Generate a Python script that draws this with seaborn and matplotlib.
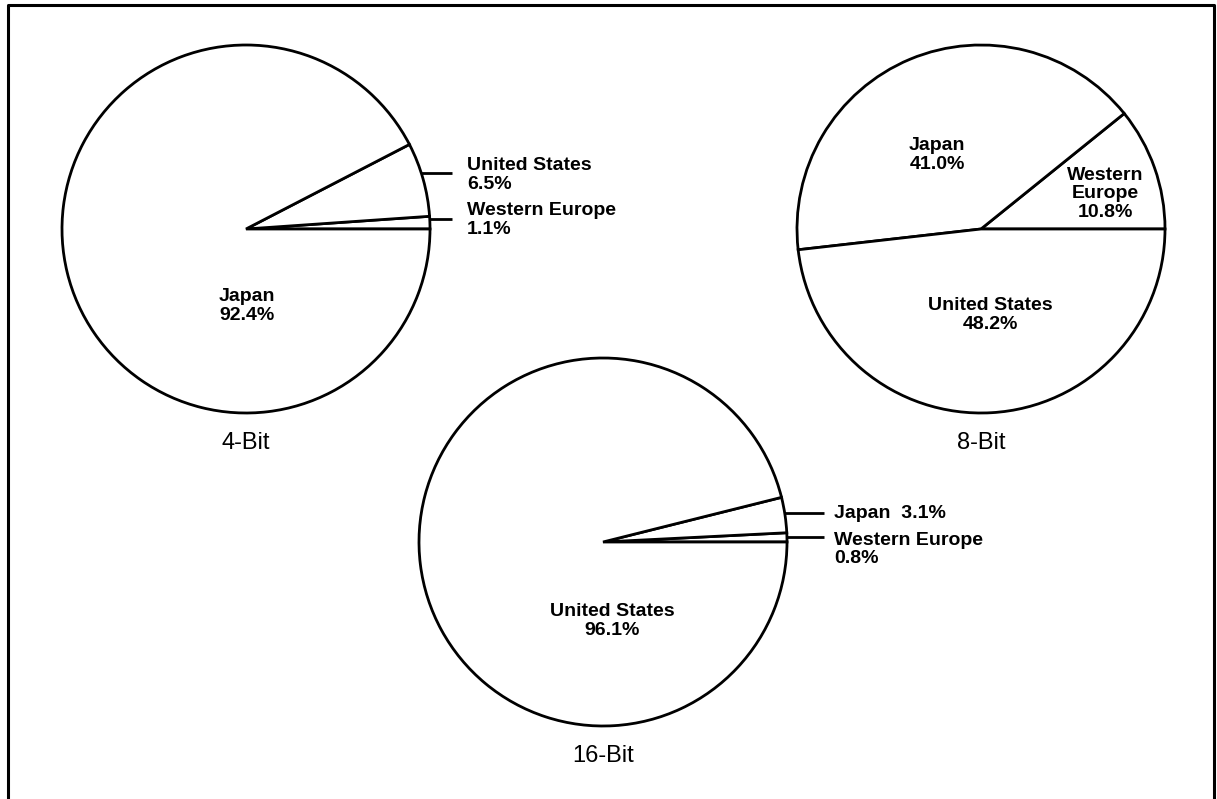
import numpy as np
import matplotlib
matplotlib.use("Agg")
import matplotlib.pyplot as plt
import seaborn as sns

# Shares by region, wedges listed counterclockwise from 3 o'clock
chips = ['4-Bit', '8-Bit', '16-Bit']
regions_4 = ['Western Europe', 'United States', 'Japan']
share_4 = [1.1, 6.5, 92.4]
regions_8 = ['Western Europe', 'Japan', 'United States']
share_8 = [10.8, 41.0, 48.2]
regions_16 = ['Western Europe', 'Japan', 'United States']
share_16 = [0.8, 3.1, 96.1]

sns.set_theme(style="white")
plt.rcParams['font.family'] = ['Liberation Sans', 'DejaVu Sans']

W, H = 1217, 799
fig = plt.figure(figsize=(W / 100, H / 100), dpi=100)
ax = fig.add_axes([0, 0, 1, 1])

R = 184
# pie centres in pixel coords (x from left, y from top)
centres = [(246, 229), (981, 229), (603, 542)]


def py(y):
    return H - y


def label(x, y, s, **kw):
    ax.text(x, py(y), s, fontsize=14, fontweight='bold', linespacing=1.08,
            color='black', **kw)


def leader(ci, y, x_end):
    cx, cy = centres[ci]
    dy = y - cy
    x0 = cx + np.sqrt(R ** 2 - dy ** 2)
    ax.plot([x0, x_end], [py(y), py(y)], color='black', lw=2.0,
            solid_capstyle='butt')


for (cx, cy), vals in zip(centres, [share_4, share_8, share_16]):
    ax.pie(vals, startangle=0, counterclock=True, colors=['white'] * len(vals),
           center=(cx, py(cy)), radius=R,
           wedgeprops=dict(edgecolor='black', linewidth=2.0))

# 4-Bit
label(247, 306, f"{regions_4[2]}\n{share_4[2]:.1f}%", ha='center', va='center')
leader(0, 173, 452)
label(467, 175, f"{regions_4[1]}\n{share_4[1]:.1f}%", ha='left', va='center')
leader(0, 219, 452)
label(467, 220, f"{regions_4[0]}\n{share_4[0]:.1f}%", ha='left', va='center')

# 8-Bit
label(937, 155, f"{regions_8[1]}\n{share_8[1]:.1f}%", ha='center', va='center')
label(1105, 194, "Western\nEurope\n" + f"{share_8[0]:.1f}%", ha='center', va='center')
label(990, 315, f"{regions_8[2]}\n{share_8[2]:.1f}%", ha='center', va='center')

# 16-Bit
leader(2, 513, 824)
label(834, 513, f"{regions_16[1]}  {share_16[1]:.1f}%", ha='left', va='center')
leader(2, 537, 824)
label(834, 532, f"{regions_16[0]}\n{share_16[0]:.1f}%", ha='left', va='top')
label(612, 621, f"{regions_16[2]}\n{share_16[2]:.1f}%", ha='center', va='center')

# chip titles under each pie
for (cx, cy), name in zip(centres, chips):
    ax.text(cx, py(cy + 214), name, fontsize=17, ha='center', va='center',
            color='black')

# outer frame (open at the bottom)
ax.plot([8, 8, 1214, 1214], [0, py(5), py(5), 0], color='black', lw=2.2)

ax.set_xlim(0, W)
ax.set_ylim(0, H)
ax.set_aspect('equal')
ax.axis('off')

fig.savefig('out.png', dpi=100)
